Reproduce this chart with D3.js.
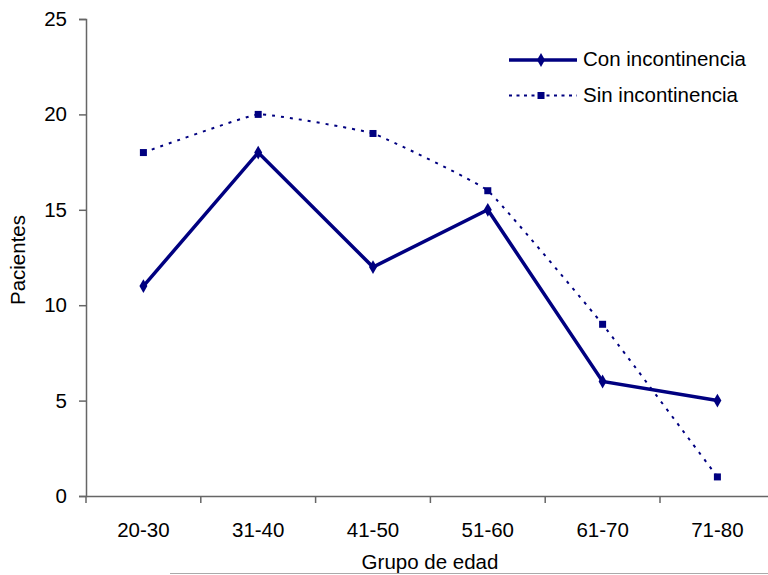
<!DOCTYPE html>
<html>
<head>
<meta charset="utf-8">
<script src="https://cdn.jsdelivr.net/npm/d3@7"></script>
<style>
  html, body { margin: 0; padding: 0; background: #fff; }
  svg { display: block; }
  text { font-family: "Liberation Sans", Arial, sans-serif; fill: #000; }
</style>
</head>
<body>
<svg id="chart" width="768" height="575"></svg>
<script>
// Patients per age group, with and without incontinence
const categories = ["20-30", "31-40", "41-50", "51-60", "61-70", "71-80"];
const conIncontinencia = [11, 18, 12, 15, 6, 5];
const sinIncontinencia = [18, 20, 19, 16, 9, 1];
const yTicks = [0, 5, 10, 15, 20, 25];
const seriesNames = ["Con incontinencia", "Sin incontinencia"];

const svg = d3.select("#chart");
const navy = "#000080";
const axisColor = "#666";
const fontSize = 20.5;
const dash = "3,6";

const plotLeft = 86, plotTop = 19, plotBottom = 496;
const band = 114.8;
const plotRight = plotLeft + band * categories.length;

const x = d3.scaleBand().domain(categories).range([plotLeft, plotRight]);
const y = d3.scaleLinear().domain([0, 25]).range([plotBottom, plotTop]);
const cx = d => x(d) + x.bandwidth() / 2;

// Y axis
const yAxis = svg.append("g").attr("transform", `translate(${plotLeft},0)`)
  .call(d3.axisLeft(y).tickValues(yTicks).tickSize(7).tickPadding(12).tickFormat(d3.format("d")));
yAxis.select(".domain").attr("stroke", axisColor).attr("stroke-width", 1.5);
yAxis.selectAll(".tick line").attr("stroke", axisColor).attr("stroke-width", 1.5);
yAxis.selectAll(".tick text").attr("font-size", fontSize).attr("font-family", "Liberation Sans, Arial, sans-serif").attr("fill", "#000");

// X axis: ticks on band boundaries
const xAxis = svg.append("g").attr("transform", `translate(0,${plotBottom})`)
  .call(d3.axisBottom(x).tickSize(0).tickPadding(26));
xAxis.select(".domain").attr("stroke", axisColor).attr("stroke-width", 1.5);
xAxis.selectAll(".tick text").attr("font-size", fontSize).attr("font-family", "Liberation Sans, Arial, sans-serif").attr("fill", "#000");
xAxis.selectAll(".boundary").data(categories).enter().append("line")
  .attr("x1", d => x(d)).attr("x2", d => x(d))
  .attr("y1", 0).attr("y2", 7)
  .attr("stroke", axisColor).attr("stroke-width", 1.5);

// Axis titles
svg.append("text").attr("x", 430).attr("y", 569).attr("text-anchor", "middle")
  .attr("font-size", fontSize).text("Grupo de edad");
svg.append("text").attr("transform", "translate(25,260) rotate(-90)")
  .attr("text-anchor", "middle").attr("font-size", fontSize).text("Pacientes");

// Thin rule under the x-axis title
svg.append("line").attr("x1", 170).attr("x2", 768).attr("y1", 573.5).attr("y2", 573.5)
  .attr("stroke", "#aaa").attr("stroke-width", 1);

// Series: without incontinence (lightly smoothed dotted line, square markers)
const sinLine = d3.line().x((d, i) => cx(categories[i])).y(d => y(d))
  .curve(d3.curveCardinal.tension(0.7));
svg.append("path").datum(sinIncontinencia)
  .attr("d", sinLine).attr("fill", "none").attr("stroke", navy)
  .attr("stroke-width", 2).attr("stroke-dasharray", dash);
svg.selectAll(".sq").data(sinIncontinencia).enter().append("rect")
  .attr("x", (d, i) => cx(categories[i]) - 3.5).attr("y", d => y(d) - 3.5)
  .attr("width", 7).attr("height", 7).attr("fill", navy);

// Series: with incontinence (solid line, diamond markers)
const conLine = d3.line().x((d, i) => cx(categories[i])).y(d => y(d));
svg.append("path").datum(conIncontinencia)
  .attr("d", conLine).attr("fill", "none").attr("stroke", navy)
  .attr("stroke-width", 3.5).attr("stroke-linejoin", "miter");
const diamond = d3.symbol().type(d3.symbolDiamond).size(55);
svg.selectAll(".dm").data(conIncontinencia).enter().append("path")
  .attr("d", diamond)
  .attr("transform", (d, i) => `translate(${cx(categories[i])},${y(d)})`)
  .attr("fill", navy);

// Legend
const lg = svg.append("g");
lg.append("line").attr("x1", 509).attr("x2", 577).attr("y1", 60).attr("y2", 60)
  .attr("stroke", navy).attr("stroke-width", 3.5);
lg.append("path").attr("d", diamond).attr("transform", "translate(541,60)").attr("fill", navy);
lg.append("text").attr("x", 583).attr("y", 66).attr("font-size", fontSize).text(seriesNames[0]);
lg.append("line").attr("x1", 509).attr("x2", 577).attr("y1", 95.5).attr("y2", 95.5)
  .attr("stroke", navy).attr("stroke-width", 2).attr("stroke-dasharray", "3,4.5");
lg.append("rect").attr("x", 537.5).attr("y", 92).attr("width", 7).attr("height", 7).attr("fill", navy);
lg.append("text").attr("x", 583).attr("y", 102).attr("font-size", fontSize).text(seriesNames[1]);
</script>
</body>
</html>
